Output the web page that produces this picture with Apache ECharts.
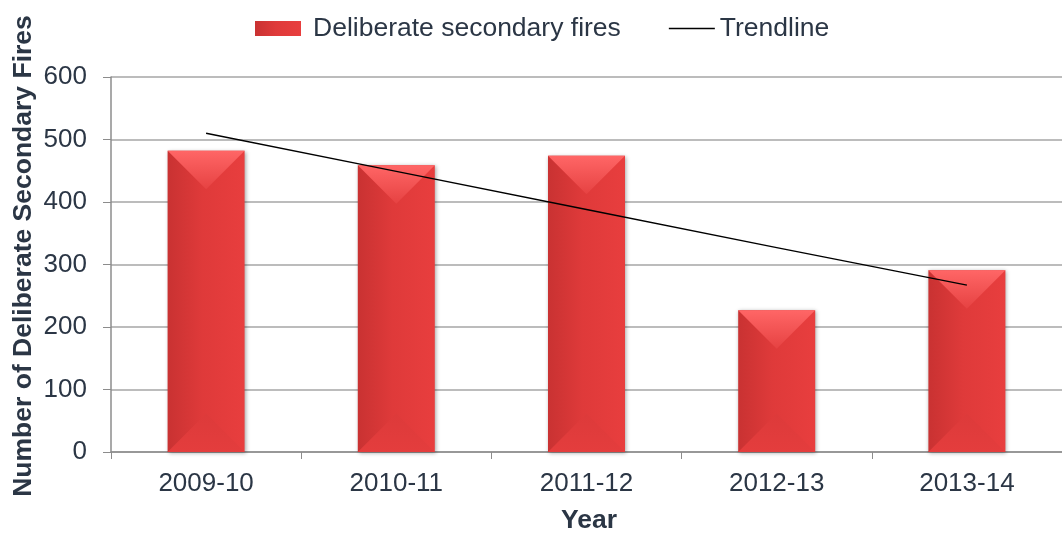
<!DOCTYPE html>
<html>
<head>
<meta charset="utf-8">
<script src="https://cdn.jsdelivr.net/npm/echarts@6/dist/echarts.min.js"></script>
<style>
  html, body { margin: 0; padding: 0; background: #fff; }
  #main { width: 1062px; height: 536px; }
</style>
</head>
<body>
<div id="main"></div>
<script>
var years = ['2009-10', '2010-11', '2011-12', '2012-13', '2013-14'];
var fires = [482, 459, 474, 227, 291];
var trend = [510, 449, 388, 327, 267];
var yTicks = [0, 100, 200, 300, 400, 500, 600];

var textColor = '#2b3645';
var gridGray = '#a6a6a6';
var barW = 77;
var font = 'Liberation Sans, Arial, sans-serif';

var myChart = echarts.init(document.getElementById('main'));

// bevel highlights on top / bottom of each bar
function bevel(params, api) {
  var top = api.coord([api.value(0), api.value(1)]);
  var base = api.coord([api.value(0), 0]);
  var x0 = top[0] - barW / 2, x1 = top[0] + barW / 2;
  var h = barW / 2;
  return {
    type: 'group',
    children: [
      {
        type: 'polygon',
        shape: { points: [[x0, top[1]], [x1, top[1]], [top[0], top[1] + h]] },
        style: {
          fill: new echarts.graphic.LinearGradient(0, 0, 0, 1, [
            { offset: 0, color: '#ff6666' },
            { offset: 1, color: '#e64242' }
          ])
        }
      },
      {
        type: 'polygon',
        shape: { points: [[x0, base[1]], [x1, base[1]], [top[0], base[1] - h]] },
        style: {
          fill: new echarts.graphic.LinearGradient(0, 0, 0, 1, [
            { offset: 0, color: '#dd3a3a' },
            { offset: 1, color: '#e43d3d' }
          ])
        }
      }
    ]
  };
}

myChart.setOption({
  animation: false,
  textStyle: { fontFamily: font },
  legend: {
    left: 250,
    top: 10,
    itemGap: 48,
    itemWidth: 46,
    itemHeight: 15,
    textStyle: { fontSize: 26.5, color: textColor },
    data: [
      { name: 'Deliberate secondary fires', icon: 'rect', textStyle: { padding: [0, 0, 0, 7] } },
      { name: 'Trendline', icon: 'path://M0,0h200v6h-200z', itemStyle: { color: '#000' } }
    ]
  },
  grid: { left: 111, right: 0, top: 77, bottom: 84, outerBoundsMode: 'none' },
  xAxis: {
    type: 'category',
    data: years,
    axisLine: { lineStyle: { color: '#8c8c8c', width: 1.5 } },
    axisTick: { show: true, length: 7, lineStyle: { color: '#8c8c8c' } },
    axisLabel: { fontSize: 26, color: textColor, margin: 19 }
  },
  yAxis: {
    type: 'value',
    min: yTicks[0],
    max: yTicks[yTicks.length - 1],
    interval: 100,
    axisLine: { show: true, lineStyle: { color: '#8c8c8c', width: 1.5 } },
    axisTick: { show: true, length: 8, lineStyle: { color: '#8c8c8c' } },
    axisLabel: { fontSize: 26, color: textColor, margin: 24 },
    splitLine: { lineStyle: { color: gridGray, width: 1.5 } }
  },
  graphic: [
    {
      type: 'text',
      rotation: Math.PI / 2,
      x: 24, y: 256,
      style: {
        text: 'Number of Deliberate Secondary Fires',
        fontSize: 26.5,
        fontWeight: 'bold',
        fill: textColor,
        fontFamily: font,
        align: 'center',
        verticalAlign: 'middle'
      }
    },
    {
      type: 'text',
      x: 589, y: 521,
      style: {
        text: 'Year',
        fontSize: 26.5,
        fontWeight: 'bold',
        fill: textColor,
        fontFamily: font,
        align: 'center',
        verticalAlign: 'middle'
      }
    }
  ],
  series: [
    {
      name: 'Deliberate secondary fires',
      type: 'bar',
      barWidth: barW,
      data: fires,
      itemStyle: {
        color: new echarts.graphic.LinearGradient(0, 0, 1, 0, [
          { offset: 0, color: '#c93232' },
          { offset: 0.45, color: '#df3a3a' },
          { offset: 1, color: '#e83e3e' }
        ]),
        shadowColor: 'rgba(0,0,0,0.35)',
        shadowBlur: 4,
        shadowOffsetX: 1,
        shadowOffsetY: 1
      }
    },
    {
      type: 'custom',
      renderItem: bevel,
      data: fires.map(function (v, i) { return [i, v]; }),
      z: 3,
      silent: true
    },
    {
      name: 'Trendline',
      type: 'line',
      data: trend,
      symbol: 'none',
      z: 5,
      lineStyle: { color: '#000', width: 1.5 },
      itemStyle: { color: '#000' }
    }
  ]
});
</script>
</body>
</html>
